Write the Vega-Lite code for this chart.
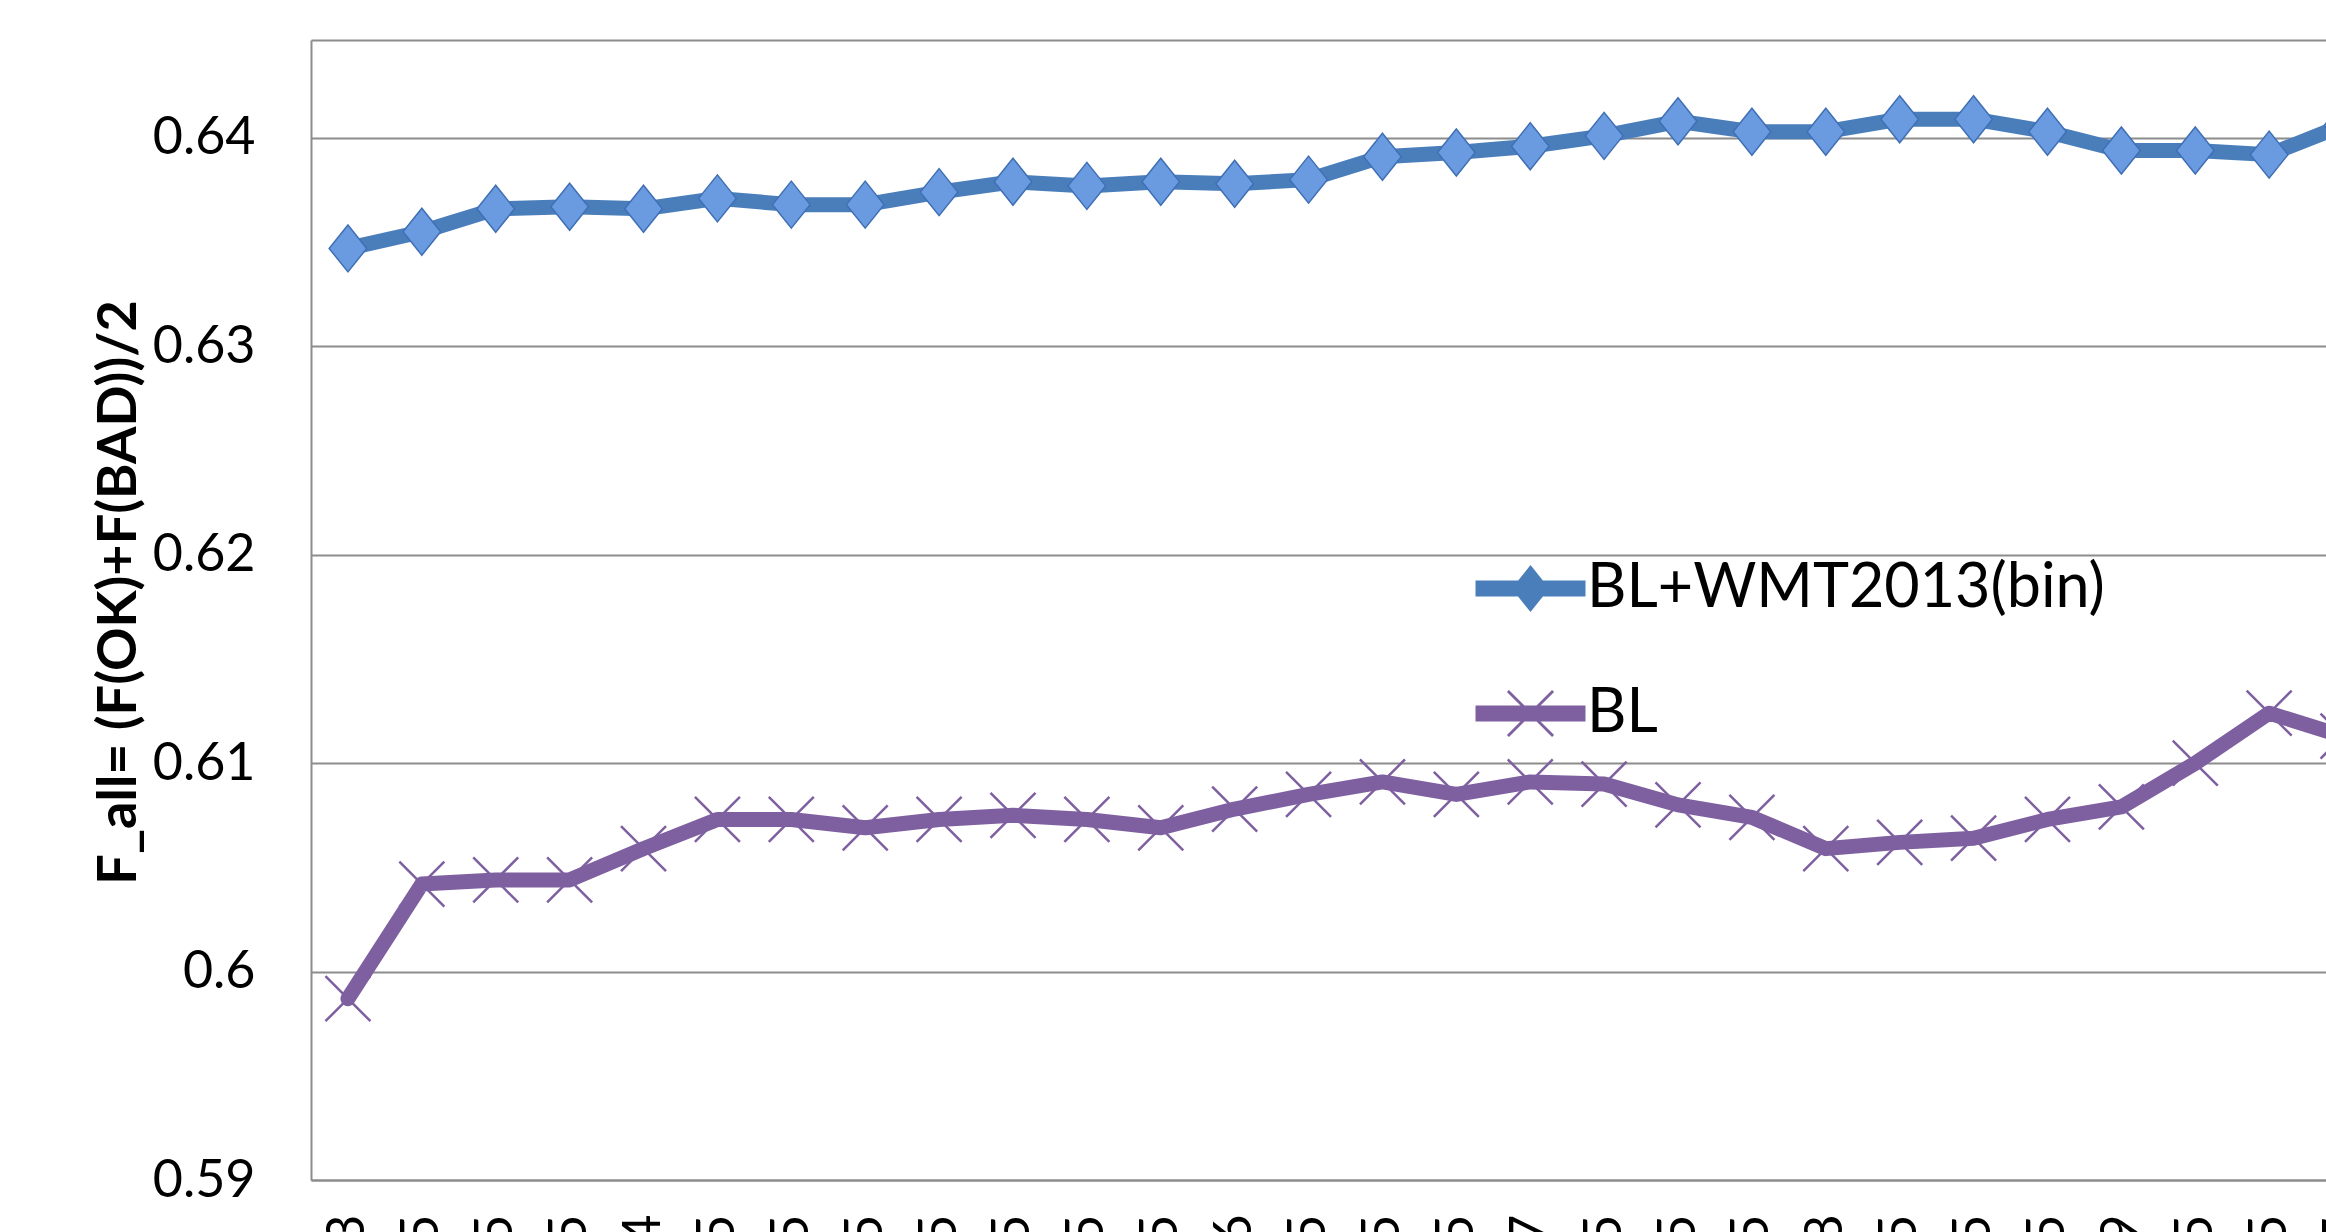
{
  "$schema": "https://vega.github.io/schema/vega-lite/v6.json",
  "width": 2015,
  "height": 1140,
  "autosize": {"type": "none"},
  "padding": {"left": 311, "top": 40, "right": 0, "bottom": 52},
  "background": "white",
  "config": {"view": {"stroke": null}, "font": "Lato"},
  "data": {
    "values": [
      {"threshold": "0.33", "series": "BL+WMT2013(bin)", "F_all": 0.6347},
      {"threshold": "0.3325", "series": "BL+WMT2013(bin)", "F_all": 0.6355},
      {"threshold": "0.335", "series": "BL+WMT2013(bin)", "F_all": 0.6366},
      {"threshold": "0.3375", "series": "BL+WMT2013(bin)", "F_all": 0.6367},
      {"threshold": "0.34", "series": "BL+WMT2013(bin)", "F_all": 0.6366},
      {"threshold": "0.3425", "series": "BL+WMT2013(bin)", "F_all": 0.6371},
      {"threshold": "0.345", "series": "BL+WMT2013(bin)", "F_all": 0.6368},
      {"threshold": "0.3475", "series": "BL+WMT2013(bin)", "F_all": 0.6368},
      {"threshold": "0.35", "series": "BL+WMT2013(bin)", "F_all": 0.6374},
      {"threshold": "0.3525", "series": "BL+WMT2013(bin)", "F_all": 0.6379},
      {"threshold": "0.355", "series": "BL+WMT2013(bin)", "F_all": 0.6377},
      {"threshold": "0.3575", "series": "BL+WMT2013(bin)", "F_all": 0.6379},
      {"threshold": "0.36", "series": "BL+WMT2013(bin)", "F_all": 0.6378},
      {"threshold": "0.3625", "series": "BL+WMT2013(bin)", "F_all": 0.6380},
      {"threshold": "0.365", "series": "BL+WMT2013(bin)", "F_all": 0.6391},
      {"threshold": "0.3675", "series": "BL+WMT2013(bin)", "F_all": 0.6393},
      {"threshold": "0.37", "series": "BL+WMT2013(bin)", "F_all": 0.6396},
      {"threshold": "0.3725", "series": "BL+WMT2013(bin)", "F_all": 0.6401},
      {"threshold": "0.375", "series": "BL+WMT2013(bin)", "F_all": 0.6408},
      {"threshold": "0.3775", "series": "BL+WMT2013(bin)", "F_all": 0.6403},
      {"threshold": "0.38", "series": "BL+WMT2013(bin)", "F_all": 0.6403},
      {"threshold": "0.3825", "series": "BL+WMT2013(bin)", "F_all": 0.6409},
      {"threshold": "0.385", "series": "BL+WMT2013(bin)", "F_all": 0.6409},
      {"threshold": "0.3875", "series": "BL+WMT2013(bin)", "F_all": 0.6403},
      {"threshold": "0.39", "series": "BL+WMT2013(bin)", "F_all": 0.6394},
      {"threshold": "0.3925", "series": "BL+WMT2013(bin)", "F_all": 0.6394},
      {"threshold": "0.395", "series": "BL+WMT2013(bin)", "F_all": 0.6392},
      {"threshold": "0.3975", "series": "BL+WMT2013(bin)", "F_all": 0.6406},
      {"threshold": "0.33", "series": "BL", "F_all": 0.5987},
      {"threshold": "0.3325", "series": "BL", "F_all": 0.6042},
      {"threshold": "0.335", "series": "BL", "F_all": 0.6044},
      {"threshold": "0.3375", "series": "BL", "F_all": 0.6044},
      {"threshold": "0.34", "series": "BL", "F_all": 0.6059},
      {"threshold": "0.3425", "series": "BL", "F_all": 0.6073},
      {"threshold": "0.345", "series": "BL", "F_all": 0.6073},
      {"threshold": "0.3475", "series": "BL", "F_all": 0.6069},
      {"threshold": "0.35", "series": "BL", "F_all": 0.6073},
      {"threshold": "0.3525", "series": "BL", "F_all": 0.6075},
      {"threshold": "0.355", "series": "BL", "F_all": 0.6073},
      {"threshold": "0.3575", "series": "BL", "F_all": 0.6069},
      {"threshold": "0.36", "series": "BL", "F_all": 0.6078},
      {"threshold": "0.3625", "series": "BL", "F_all": 0.6085},
      {"threshold": "0.365", "series": "BL", "F_all": 0.6091},
      {"threshold": "0.3675", "series": "BL", "F_all": 0.6085},
      {"threshold": "0.37", "series": "BL", "F_all": 0.6091},
      {"threshold": "0.3725", "series": "BL", "F_all": 0.6090},
      {"threshold": "0.375", "series": "BL", "F_all": 0.6080},
      {"threshold": "0.3775", "series": "BL", "F_all": 0.6074},
      {"threshold": "0.38", "series": "BL", "F_all": 0.6059},
      {"threshold": "0.3825", "series": "BL", "F_all": 0.6062},
      {"threshold": "0.385", "series": "BL", "F_all": 0.6064},
      {"threshold": "0.3875", "series": "BL", "F_all": 0.6073},
      {"threshold": "0.39", "series": "BL", "F_all": 0.6079},
      {"threshold": "0.3925", "series": "BL", "F_all": 0.6100},
      {"threshold": "0.395", "series": "BL", "F_all": 0.6124},
      {"threshold": "0.3975", "series": "BL", "F_all": 0.6113}
    ]
  },
  "encoding": {
    "x": {
      "field": "threshold",
      "type": "ordinal",
      "sort": null,
      "scale": {"type": "point", "range": [0, 2069], "padding": 0.5},
      "axis": {
        "title": null,
        "labelAngle": -90,
        "labelFont": "Lato",
        "labelFontSize": 52,
        "labelColor": "#000000",
        "labelPadding": 34,
        "labelOverlap": false,
        "ticks": false,
        "grid": false,
        "domainColor": "#8c8c8c",
        "domainWidth": 2
      }
    },
    "y": {
      "field": "F_all",
      "type": "quantitative",
      "scale": {"domain": [0.59, 0.6447], "nice": false, "zero": false},
      "axis": {
        "values": [0.59, 0.6, 0.61, 0.62, 0.63, 0.64, 0.6447],
        "labelExpr": "datum.value > 0.642 ? '' : format(datum.value, '.2~f')",
        "labelFlush": false,
        "labelOverlap": false,
        "grid": true,
        "gridColor": "#8c8c8c",
        "gridWidth": 2,
        "domainColor": "#8c8c8c",
        "domainWidth": 2,
        "ticks": false,
        "labelFont": "Lato",
        "labelFontSize": 52,
        "labelColor": "#000000",
        "labelPadding": 56,
        "title": "F_all= (F(OK)+F(BAD))/2",
        "titleFont": "Lato",
        "titleFontSize": 54,
        "titleFontWeight": "bold",
        "titleColor": "#000000",
        "titleAngle": 270,
        "titleX": -192,
        "titleY": 552,
        "titleAlign": "center",
        "titleBaseline": "middle"
      }
    }
  },
  "layer": [
    {
      "mark": {"type": "line", "strokeWidth": 15, "strokeJoin": "round", "strokeCap": "round"},
      "encoding": {
        "color": {
          "field": "series",
          "type": "nominal",
          "scale": {"domain": ["BL+WMT2013(bin)", "BL"], "range": ["#4a7ebb", "#7e60a0"]},
          "legend": {
            "orient": "none",
            "legendX": 1189,
            "legendY": 518,
            "title": null,
            "padding": 0,
            "labelFont": "Lato",
            "labelFontSize": 61,
            "labelColor": "#000000",
            "labelOffset": 26,
            "labelLimit": 1000,
            "symbolSize": 2209,
            "rowPadding": 63,
            "encode": {
              "symbols": {
                "update": {
                  "shape": {"signal": "datum.value === 'BL' ? 'M-2.34,-0.34L2.34,-0.34L2.34,0.34L-2.34,0.34Z M-0.918,-1.002L1.002,0.918L0.918,1.002L-1.002,-0.918Z M-0.918,1.002L-1.002,0.918L0.918,-1.002L1.002,-0.918Z' : 'M-2.34,-0.34L2.34,-0.34L2.34,0.34L-2.34,0.34Z M0,-1L0.8,0L0,1L-0.8,0Z'"},
                  "fill": {"scale": "color", "field": "value"},
                  "stroke": {"value": "transparent"},
                  "strokeWidth": {"value": 0},
                  "opacity": {"value": 1}
                }
              }
            }
          }
        }
      }
    },
    {
      "transform": [{"filter": "datum.series === 'BL'"}],
      "mark": {"type": "point", "shape": "M-1,-1L1,1M-1,1L1,-1", "size": 2025, "filled": false, "stroke": "#7e60a0", "strokeWidth": 2.5, "opacity": 1}
    },
    {
      "transform": [{"filter": "datum.series !== 'BL'"}],
      "mark": {"type": "point", "shape": "M0,-1L0.8,0L0,1L-0.8,0Z", "size": 2209, "filled": true, "fill": "#6a9be0", "stroke": "#3f6fb5", "strokeWidth": 1.5, "opacity": 1}
    }
  ]
}
